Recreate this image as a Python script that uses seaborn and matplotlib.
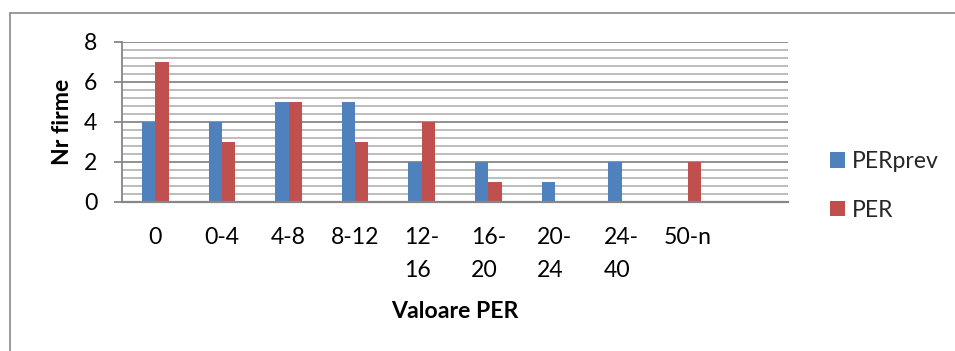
import matplotlib
matplotlib.use("Agg")
import matplotlib.pyplot as plt
import seaborn as sns
import pandas as pd
from matplotlib.patches import Patch
from matplotlib.lines import Line2D
from matplotlib.ticker import MultipleLocator

# ---- data ----
categories = ["0", "0-4", "4-8", "8-12", "12-\n16", "16-\n20", "20-\n24", "24-\n40", "50-n"]
per_prev = [4, 4, 5, 5, 2, 2, 1, 2, 0]
per = [7, 3, 5, 3, 4, 1, 0, 0, 2]
series = ["PERprev", "PER"]
colors = ["#4F81BD", "#C0504D"]
y_ticks = [0, 2, 4, 6, 8]

df = pd.DataFrame({
    "cat": categories * 2,
    "val": per_prev + per,
    "series": [series[0]] * len(categories) + [series[1]] * len(categories),
})

sns.set_theme(style="white")
plt.rcParams['font.family'] = ['Lato', 'DejaVu Sans']

FS = 23 * 72 / 100  # 23 px
GRID_MAJ = "#878787"
GRID_MIN = "#B8B8B8"

fig = plt.figure(figsize=(9.55, 3.51), dpi=100)
ax = fig.add_axes([122 / 955, 1 - 202 / 351, 666 / 955, 160 / 351])

sns.barplot(data=df, x="cat", y="val", hue="series", order=categories,
            hue_order=series, palette=colors, width=0.4, linewidth=0,
            saturation=1, errorbar=None, legend=False, ax=ax)

ax.set_xlim(-0.5, 9.5)
ax.set_ylim(0, 8)
ax.set_yticks(y_ticks)
ax.yaxis.set_minor_locator(MultipleLocator(0.4))
ax.set_axisbelow(True)
ax.grid(which="major", axis="y", color=GRID_MAJ, lw=1.3)
ax.grid(which="minor", axis="y", color=GRID_MIN, lw=1.3)
ax.grid(which="both", axis="x", visible=False)

for s in ["top", "right"]:
    ax.spines[s].set_visible(False)
ax.spines["left"].set_color(GRID_MAJ)
ax.spines["left"].set_linewidth(1.3)
ax.spines["bottom"].set_color(GRID_MAJ)
ax.spines["bottom"].set_linewidth(1.6)

ax.tick_params(axis="y", which="major", length=5.8, width=1.3, color=GRID_MAJ,
               pad=12, labelsize=FS, labelcolor="black", left=True)
ax.tick_params(axis="y", which="minor", length=0)
ax.tick_params(axis="x", length=0, pad=17.8, labelsize=FS, labelcolor="black")
for lbl in ax.get_xticklabels():
    lbl.set_multialignment("left")
    lbl.set_linespacing(1.75)

ax.set_ylabel("Nr firme", fontsize=FS, fontweight="bold", color="black", labelpad=8)
ax.set_xlabel("Valoare PER", fontsize=FS, fontweight="bold", color="black", labelpad=14)

handles = [Patch(facecolor=c, edgecolor="none", label=s) for c, s in zip(colors, series)]
ax.legend(handles=handles, loc="upper left", bbox_to_anchor=(830 / 955, 1 - 151 / 351),
          bbox_transform=fig.transFigure, frameon=False, fontsize=FS,
          borderpad=0, borderaxespad=0, handlelength=0.65, handleheight=0.65,
          handletextpad=0.3, labelspacing=1.21)

# outer chart-area frame (only top and left edges visible)
fig.add_artist(Line2D([10 / 955, 10 / 955], [0, 1 - 12.7 / 351], transform=fig.transFigure,
                      color="#898989", lw=1.2))
fig.add_artist(Line2D([10 / 955, 1], [1 - 12.7 / 351, 1 - 12.7 / 351], transform=fig.transFigure,
                      color="#898989", lw=1.2))

fig.savefig("out.png", dpi=100)
